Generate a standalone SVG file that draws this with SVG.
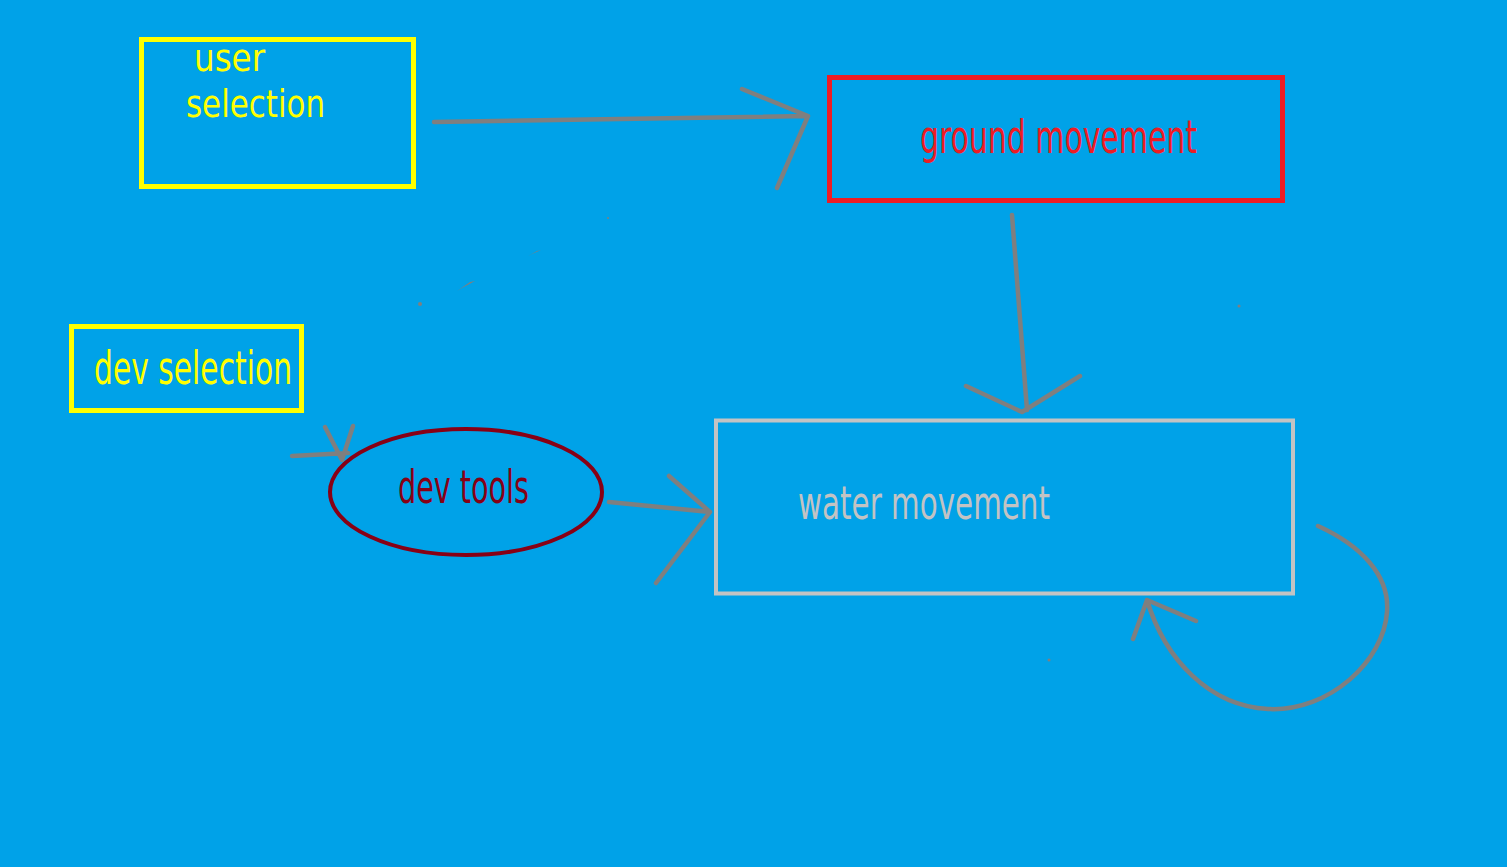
<svg xmlns="http://www.w3.org/2000/svg" width="1507" height="867" viewBox="0 0 1507 867">
<style>
.lbl{font-family:"Liberation Sans Narrow","DejaVu Sans Condensed","Arial Narrow",sans-serif;font-stretch:condensed;font-size:46px}
.sm{font-size:37px}
.con{fill:none;stroke:#7f7f7f;stroke-width:4.5;stroke-linecap:round;stroke-linejoin:round}
</style>
<rect width="1507" height="867" fill="#00a2e8"/>
<g id="user-selection">
<rect x="141.5" y="39.5" width="272" height="147" fill="none" stroke="#ffff00" stroke-width="5"/>
<text class="lbl sm" x="194" y="71" fill="#ffff00" textLength="71" lengthAdjust="spacingAndGlyphs">user</text>
<text class="lbl sm" x="186" y="117" fill="#ffff00" textLength="139" lengthAdjust="spacingAndGlyphs">selection</text>
</g>
<g id="ground-movement">
<rect x="829.5" y="77.5" width="453" height="123" fill="none" stroke="#ed1c24" stroke-width="5"/>
<text class="lbl" x="920" y="153" fill="#ed1c24" textLength="277" lengthAdjust="spacingAndGlyphs">ground movement</text>
</g>
<g id="dev-selection">
<rect x="71.5" y="326.5" width="230" height="84" fill="none" stroke="#ffff00" stroke-width="5"/>
<text class="lbl" x="94" y="384" fill="#ffff00" textLength="198" lengthAdjust="spacingAndGlyphs">dev selection</text>
</g>
<g id="dev-tools">
<ellipse cx="466" cy="492" rx="136" ry="63" fill="none" stroke="#880015" stroke-width="4"/>
<text class="lbl" x="398" y="503" fill="#880015" textLength="131" lengthAdjust="spacingAndGlyphs">dev tools</text>
</g>
<g id="water-movement">
<rect x="716" y="420.5" width="577" height="173" fill="none" stroke="#c3c3c3" stroke-width="4"/>
<text class="lbl" x="798" y="519" fill="#c3c3c3" textLength="252" lengthAdjust="spacingAndGlyphs">water movement</text>
</g>
<g id="connectors">
<path class="con" d="M434,122 L620,119 L808,116 M742,89 L808,116 L777,188"/>
<path class="con" d="M1012,215 L1027,410 M966,386 L1022,412 L1080,376"/>
<path class="con" d="M292,456 L348,453 M325,427 L342,460 L353,426"/>
<path class="con" d="M609,502 L710,512 M669,476 L710,512 L656,583"/>
<path class="con" d="M1318,526 C1360,545 1390,575 1387,612 C1384,660 1330,712 1268,709 C1210,706 1165,660 1147,600 M1133,639 L1147,600 L1196,621"/>
<g fill="#7f7f7f" stroke="none">
<circle cx="420" cy="304" r="2"/>
<path d="M457,291 L470,282 L475,281 L462,288 Z"/>
<path d="M528,256 L537,251 L541,250 L532,254 Z"/>
<circle cx="608" cy="218" r="1"/>
<circle cx="1239" cy="306" r="1.5"/>
<circle cx="1049" cy="660" r="1.5"/>
</g>
</g>
</svg>
